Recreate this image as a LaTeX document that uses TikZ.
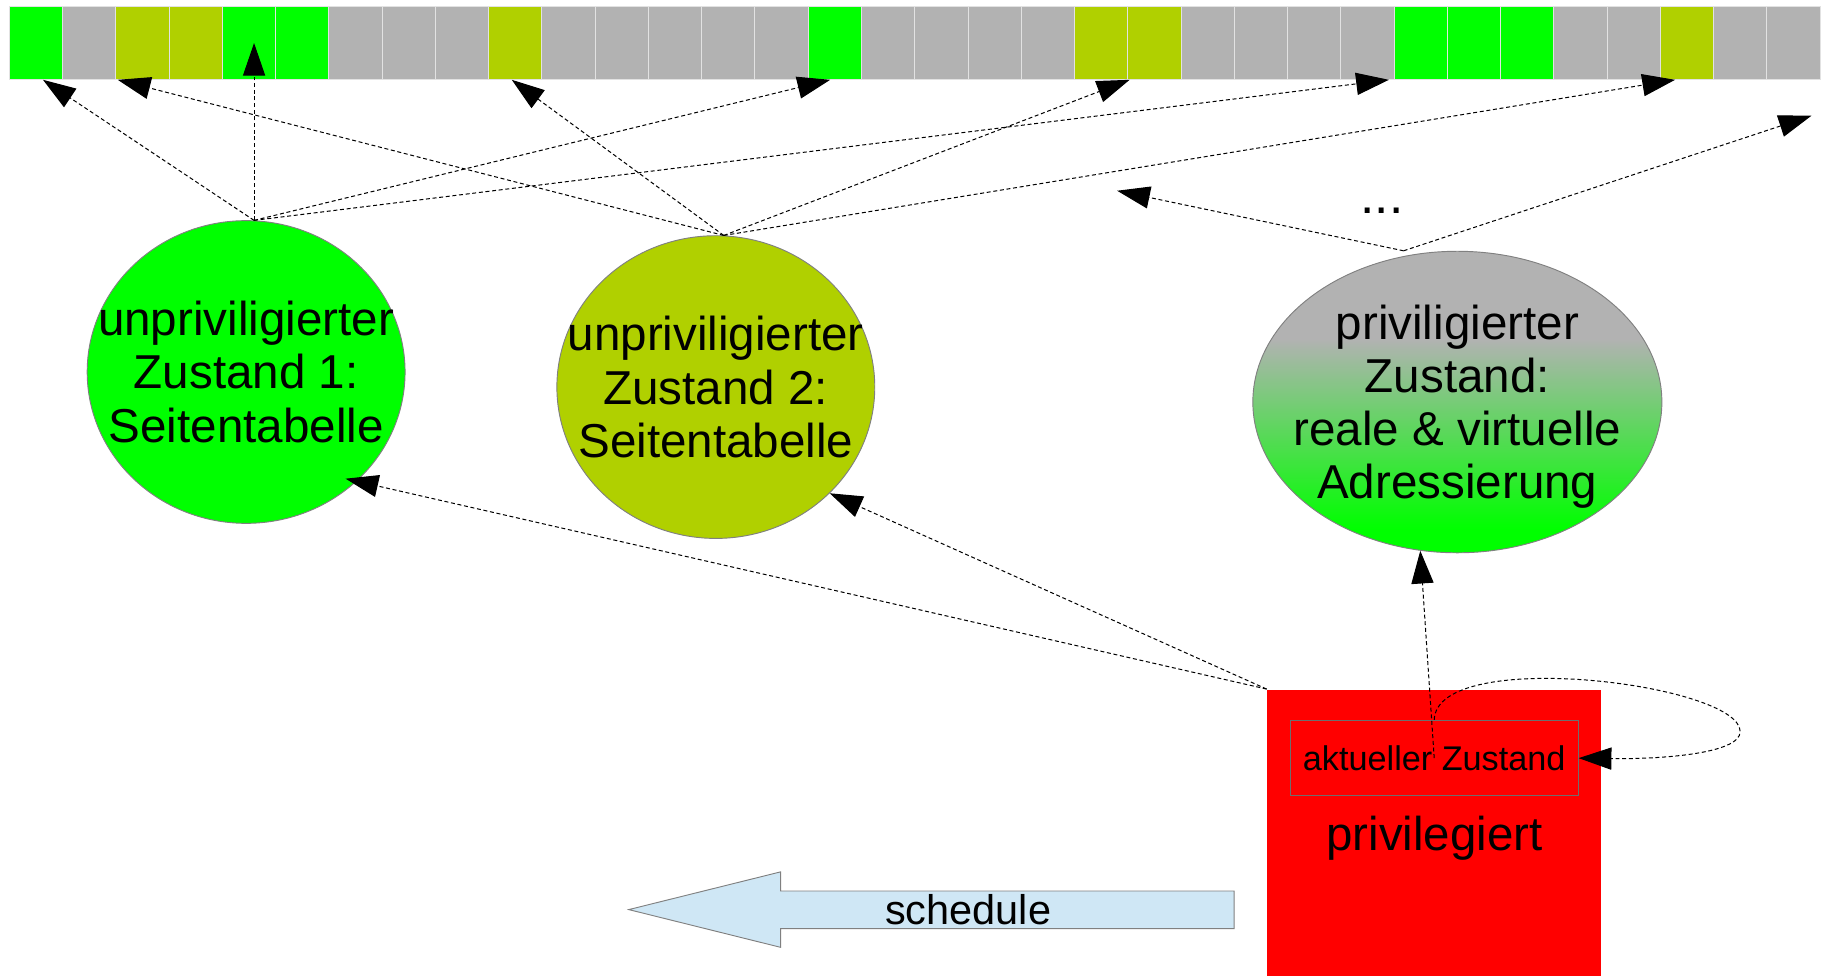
\documentclass[tikz,border=0pt]{standalone}
\usepackage{fontspec}
\setmainfont{Liberation Sans}
\usetikzlibrary{shapes.geometric,arrows.meta,calc}
\definecolor{cellG}{HTML}{00FF00}
\definecolor{cellX}{HTML}{B2B2B2}
\definecolor{cellY}{HTML}{B0D000}
\definecolor{cellLine}{HTML}{E2E2E2}
\definecolor{ellLine}{HTML}{808080}
\definecolor{boxLine}{HTML}{6E6E6E}
\definecolor{schedFill}{HTML}{CFE7F5}
\definecolor{privRed}{HTML}{FF0000}
\pgfdeclareverticalshading{zshade}{100bp}{color(0bp)=(cellG); color(29bp)=(cellG); color(60.5bp)=(cellX); color(100bp)=(cellX)}
\begin{document}
\begin{tikzpicture}[x=0.5pt,y=-0.5pt,
  cellbox/.style={rectangle, draw=cellLine, line width=0.4pt, minimum width=22.785pt, minimum height=31.1pt, inner sep=0pt},
  ellbox/.style={ellipse, draw=ellLine, line width=0.4pt, inner sep=0pt, minimum width=136pt, minimum height=129.5pt},
  elltext/.style={align=center, inner sep=0pt, font=\fontsize{20.35pt}{22.8pt}\selectfont},
  conn/.style={draw=black, line width=0.43pt, dash pattern=on 1.7pt off 1.15pt, -{Triangle[length=14pt,width=9.5pt]}},
  redbox/.style={rectangle, fill=privRed, inner sep=0pt, minimum width=142.9pt, minimum height=122.55pt},
  aktbox/.style={rectangle, draw=boxLine, line width=0.4pt, inner sep=0pt, minimum width=123.2pt, minimum height=32.35pt, font=\fontsize{14.65pt}{17pt}\selectfont},
  bigtext/.style={inner sep=0pt, font=\fontsize{20.3pt}{23pt}\selectfont},
  schedtext/.style={inner sep=0pt, font=\fontsize{17.75pt}{20pt}\selectfont},
  schedshape/.style={fill=schedFill, draw=ellLine, line width=0.4pt},
  dotstext/.style={inner sep=0pt, font=\fontsize{22pt}{24pt}\selectfont}]
\useasboundingbox (0,0) rectangle (1565,835.1);

% memory bar
\foreach \c [count=\i] in {G,X,Y,Y,G,G,X,X,X,Y,X,X,X,X,X,G,X,X,X,X,Y,Y,X,X,X,X,G,G,G,X,X,Y,X,X}{
  \node[cellbox, fill=cell\c] (c\i) at ({8+(\i-0.5)*45.57}, 36.8) {};
}

% ellipses
\node[ellbox, fill=cellG] (e1) at (210.6,318.3) {};
\node[elltext] (t1) at (e1.center) {unpriviligierter\\Zustand 1:\\Seitentabelle};
\node[ellbox, fill=cellY] (e2) at (612.5,331.2) {};
\node[elltext] (t2) at (e2.center) {unpriviligierter\\Zustand 2:\\Seitentabelle};
\node[ellbox, shading=zshade, shade, minimum width=175pt, minimum height=129pt] (e3) at (1247,344) {};
\node[elltext] (t3) at ($(e3.center)+(0,4)$) {priviligierter\\Zustand:\\reale \& virtuelle\\Adressierung};

\node[dotstext, anchor=base] (dots) at (1182.5,183) {...};

% privileged box
\node[redbox] (priv) at (1227.1,712.55) {};
\node[aktbox] (akt) at (1227.2,648.7) {aktueller Zustand};
\node[bigtext, anchor=base] (privtxt) at (1227.5,727.5) {privilegiert};

% schedule arrow
\draw[schedshape] (538,778.3) -- (668,746) -- (668,762.4) -- (1056,762.4) -- (1056,794.6) -- (668,794.6) -- (668,810.6) -- cycle;
\node[schedtext, anchor=base] (sched) at (828.5,790.7) {schedule};

% coordinates
\coordinate (s1) at (e1.87);
\coordinate (s2) at (e2.87);
\coordinate (s3) at ($(e3.north)+(-46,0)$);
\coordinate (f1) at (955.9,163.2);
\coordinate (f2) at (1550,99);
\coordinate (loopR) at (1489,626);

% connectors from state 1
\draw[conn] (s1) -- ($(c1.south)+(6,0)$);
\draw[conn] (s1) -- (s1 |- c5.center);
\draw[conn] (s1) -- ($(c16.south)+(-4,0)$);
\draw[conn] (s1) -- ($(c27.south west)+(-4,0)$);
% connectors from state 2
\draw[conn] (s2) -- ($(c3.south west)+(2,0)$);
\draw[conn] (s2) -- ($(c10.south)+(-3,0)$);
\draw[conn] (s2) -- ($(c22.south west)+(2,0)$);
\draw[conn] (s2) -- ($(c32.south west)+(13,0)$);
% connectors from privileged state
\draw[conn] (s3) -- (f1);
\draw[conn] (s3) -- (f2);
% from privileged box
\draw[conn] (priv.north west) -- ($(e1.center)!0.94!(e1.-47)$);
\draw[conn] (priv.north west) -- (e2.-43);
\draw[conn] (akt.center) -- (e3.256);
\draw[conn] (akt.north) .. controls +(2,-63) and +(0,-41) .. (loopR) .. controls +(0,19) and +(70,1) .. (akt.east);
\end{tikzpicture}
\end{document}
